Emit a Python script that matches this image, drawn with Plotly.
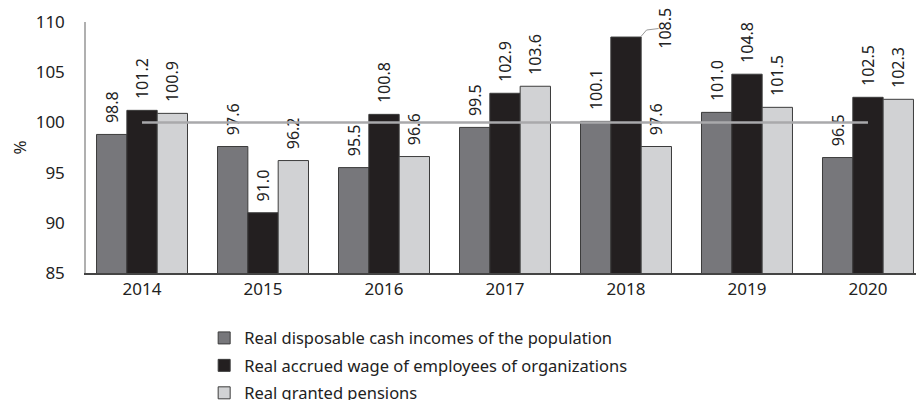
import plotly.graph_objects as go

# data
years = ['2014', '2015', '2016', '2017', '2018', '2019', '2020']
incomes = [98.8, 97.6, 95.5, 99.5, 100.1, 101.0, 96.5]
wages = [101.2, 91.0, 100.8, 102.9, 108.5, 104.8, 102.5]
pensions = [100.9, 96.2, 96.6, 103.6, 97.6, 101.5, 102.3]
base_level = [100] * len(years)

names = ['Real disposable cash incomes of the population',
         'Real accrued wage of employees of organizations',
         'Real granted pensions']
colors = ['#77777b', '#231f20', '#d1d2d4']

FONT = 'Noto Sans'
NB = '\u00a0'

def labels(vals, skip=None):
    out = []
    for i, v in enumerate(vals):
        out.append('' if i == skip else f'{NB}{NB}{v:.1f}')
    return out

fig = go.Figure()

for k, (vals, name, col, skip) in enumerate(zip([incomes, wages, pensions], names, colors, [None, 4, None])):
    fig.add_trace(go.Bar(
        x=years, y=vals, name=name, legendgroup=f'g{k}',
        marker=dict(color=col, line=dict(color='#3c3c3c', width=1)),
        text=labels(vals, skip), textposition='outside', textangle=-90,
        constraintext='none',
        textfont=dict(family=FONT, size=16, color='#222'),
        cliponaxis=False,
    ))

# reference line at 100
fig.add_trace(go.Scatter(
    x=years, y=base_level, mode='lines', showlegend=False,
    line=dict(color='#a9a9ab', width=2.5), hoverinfo='skip',
))

# 2018 wage label moved aside with a leader line
fig.add_annotation(x=4.32, y=109.4, xref='x', yref='y', text=f'{wages[4]:.1f}',
                   textangle=-90, showarrow=False,
                   font=dict(family=FONT, size=16, color='#222'))
fig.add_shape(type='path', xref='x', yref='y',
              path=f'M 4.12 {wages[4]} L 4.17 109.2 L 4.27 109.35',
              line=dict(color='#999', width=1))

# page has an 8px body offset, so the figure is 8px smaller and margins shifted
fig.update_layout(
    width=916, height=392,
    margin=dict(l=78, r=0, t=14, b=127, autoexpand=False),
    plot_bgcolor='white', paper_bgcolor='white',
    barmode='group', bargap=0.248, bargroupgap=0,
    font=dict(family=FONT, size=17, color='#222'),
    showlegend=True,
    legend=dict(orientation='v', x=0.141, xanchor='left', y=-0.19, yanchor='top',
                font=dict(family=FONT, size=16.5, color='#222'),
                traceorder='grouped', itemwidth=30, tracegroupgap=3),
)

fig.update_xaxes(range=[-0.463, 6.463], showline=True, linecolor='#444', linewidth=1.5,
                 ticks='', showgrid=False, tickfont=dict(size=17))
fig.update_yaxes(range=[85, 110], dtick=5, showline=True, linecolor='#b0b0b0', linewidth=1.5,
                 ticks='', showgrid=False, zeroline=False, tickfont=dict(size=17),
                 ticklabelstandoff=16,
                 title=dict(text='%', font=dict(size=17), standoff=12))

fig.write_html('out.html')
